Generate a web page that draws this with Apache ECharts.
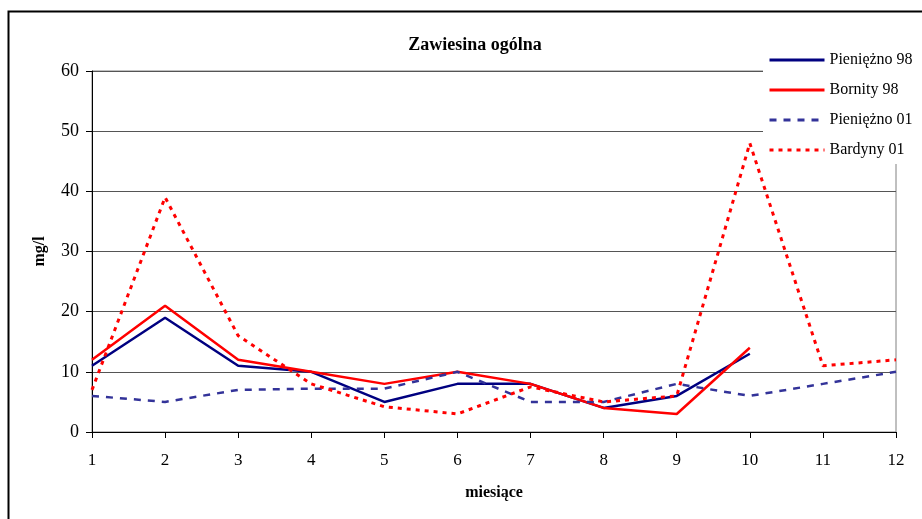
<!DOCTYPE html>
<html>
<head>
<meta charset="utf-8">
<script src="https://cdn.jsdelivr.net/npm/echarts@6/dist/echarts.min.js"></script>
<style>html,body{margin:0;padding:0;background:#fff}#c{width:922px;height:519px}</style>
</head>
<body>
<div id="c"></div>
<script>
const months = ['1','2','3','4','5','6','7','8','9','10','11','12'];
const pieniezno98 = [11, 19, 11, 10, 5, 8, 8, 4, 6, 13, null, null];
const bornity98 = [12, 21, 12, 10, 8, 10, 8, 4, 3, 14, null, null];
const pieniezno01 = [6, 5, 7, 7.2, 7.2, 10, 5, 5, 8, 6, 8, 10];
const bardyny01 = [7, 39, 16, 8, 4.2, 3, 7.5, 5, 6, 48, 11, 12];
const seriesNames = ['Pieniężno 98', 'Bornity 98', 'Pieniężno 01', 'Bardyny 01'];

const font = 'Liberation Serif, Times New Roman, serif';
const chart = echarts.init(document.getElementById('c'), null, {renderer: 'canvas'});
chart.setOption({
  animation: false,
  backgroundColor: '#fff',
  title: {
    text: 'Zawiesina ogólna', left: 470, top: 31, textAlign: 'center',
    textStyle: {fontFamily: font, fontWeight: 'bold', fontSize: 18, color: '#000'}
  },
  grid: {left: 92, right: 26, top: 71, bottom: 87, show: true, borderColor: '#808080', borderWidth: 1},
  legend: {
    left: 763, top: 42, orient: 'vertical', backgroundColor: '#fff',
    padding: [10, 10, 6, 5], itemGap: 14, itemWidth: 55, itemHeight: 14,
    itemStyle: {opacity: 0},
    lineStyle: {width: 3},
    textStyle: {fontFamily: font, fontSize: 16, color: '#000'},
    data: seriesNames
  },
  xAxis: {
    type: 'category', data: months, boundaryGap: false,
    name: 'miesiące', nameLocation: 'middle', nameGap: 53,
    nameTextStyle: {fontFamily: font, fontWeight: 'bold', fontSize: 16, color: '#000'},
    axisLine: {lineStyle: {color: '#000', width: 1}},
    axisTick: {show: true, length: 6, inside: false, alignWithLabel: true, lineStyle: {color: '#000'}},
    axisLabel: {fontFamily: font, fontSize: 17, color: '#000', margin: 20},
    splitLine: {show: false}
  },
  yAxis: {
    type: 'value', min: 0, max: 60, interval: 10,
    name: 'mg/l', nameLocation: 'middle', nameGap: 44,
    nameTextStyle: {fontFamily: font, fontWeight: 'bold', fontSize: 16, color: '#000'},
    axisLine: {show: true, lineStyle: {color: '#000', width: 1}},
    axisTick: {show: true, length: 6, lineStyle: {color: '#000'}},
    axisLabel: {fontFamily: font, fontSize: 18, color: '#000', margin: 13},
    splitLine: {show: true, lineStyle: {color: '#555', width: 1}}
  },
  series: [
    {name: seriesNames[0], type: 'line', data: pieniezno98, symbol: 'none', connectNulls: false,
     lineStyle: {color: '#000080', width: 2.5}, itemStyle: {color: '#000080'}},
    {name: seriesNames[1], type: 'line', data: bornity98, symbol: 'none',
     lineStyle: {color: '#ff0000', width: 2.5}, itemStyle: {color: '#ff0000'}},
    {name: seriesNames[2], type: 'line', data: pieniezno01, symbol: 'none',
     lineStyle: {color: '#333399', width: 2.5, type: [7, 7]}, itemStyle: {color: '#333399'}},
    {name: seriesNames[3], type: 'line', data: bardyny01, symbol: 'none',
     lineStyle: {color: '#ff0000', width: 3, type: [4, 5]}, itemStyle: {color: '#ff0000'}}
  ],
  graphic: [
    {type: 'polyline', shape: {points: [[8.5, 600], [8.5, 11.5], [1000, 11.5]]},
     style: {stroke: '#000', lineWidth: 2, fill: null}, z: 100}
  ]
});
</script>
</body>
</html>
